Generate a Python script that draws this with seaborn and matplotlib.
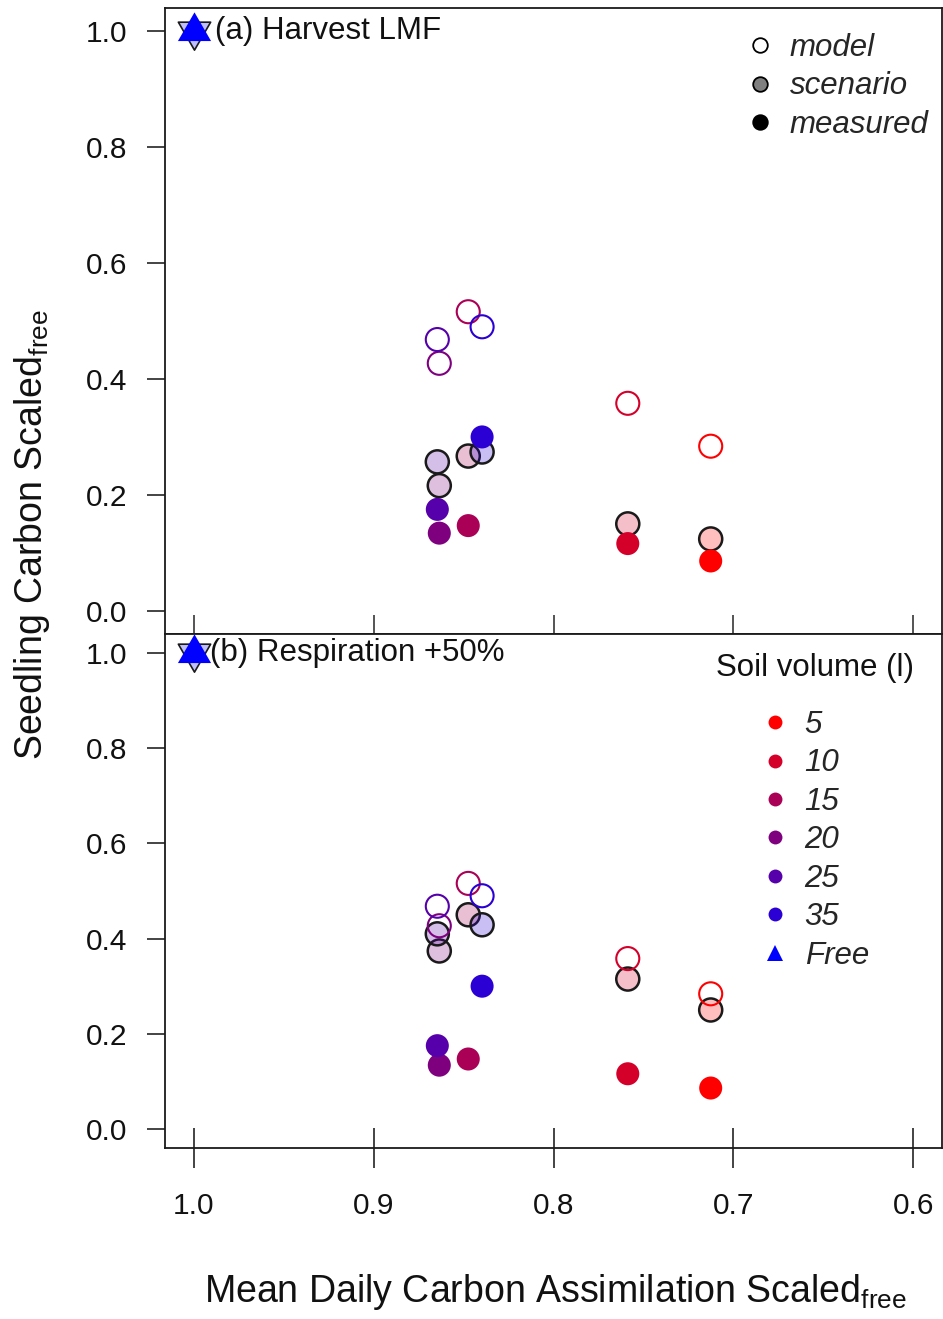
import matplotlib
matplotlib.use("Agg")
import matplotlib.pyplot as plt
import numpy as np
from matplotlib.colors import to_rgba
from matplotlib.lines import Line2D
from matplotlib.markers import MarkerStyle
from matplotlib.path import Path
from matplotlib.ticker import FormatStrFormatter
import pandas as pd
import seaborn as sns

# ---- data -------------------------------------------------------------
volumes = ["5", "10", "15", "20", "25", "35"]
assimilation = [0.7126, 0.7587, 0.8474, 0.8635, 0.8646, 0.8397]
model = [0.284, 0.358, 0.516, 0.427, 0.468, 0.490]
scenario_lmf = [0.124, 0.150, 0.267, 0.216, 0.257, 0.274]
scenario_resp = [0.250, 0.315, 0.450, 0.374, 0.410, 0.429]
measured = [0.086, 0.116, 0.147, 0.134, 0.175, 0.300]
free_assim = [1.0]
free_carbon = [1.0]

volume_colors = ["#FF0000", "#D4002A", "#AA0055", "#7F007F", "#5500AA", "#2A00D4"]
free_color = "#0000FF"
panel_titles = ["(a) Harvest LMF", "(b) Respiration +50%"]
type_labels = ["model", "scenario", "measured"]
x_ticks = [1.0, 0.9, 0.8, 0.7, 0.6]
y_ticks = [0.0, 0.2, 0.4, 0.6, 0.8, 1.0]

# ---- style ------------------------------------------------------------
sns.set_theme(style="ticks")
plt.rcParams["font.family"] = ["Liberation Sans", "DejaVu Sans"]
plt.rcParams["mathtext.fontset"] = "custom"
plt.rcParams["mathtext.rm"] = "Liberation Sans"
plt.rcParams["mathtext.it"] = "Liberation Sans:italic"
plt.rcParams["mathtext.bf"] = "Liberation Sans:bold"

W, H = 943, 1319
fig = plt.figure(figsize=(W / 100, H / 100), dpi=100)
ax_a = fig.add_axes([165 / W, 1 - 634 / H, 777 / W, 626 / H])
ax_b = fig.add_axes([165 / W, 1 - 1148 / H, 777 / W, 514 / H], sharex=ax_a)

TICK_FS = 21.5
TEXT_FS = 22.5
LABEL_FS = 27
EDGE = "#1a1a1a"
S = 275

palette = dict(zip(volumes, volume_colors))
palette_light = {v: to_rgba(c, 0.25) for v, c in palette.items()}

# equilateral triangles centred on their centroid
h = np.sqrt(3) / 2
TRI_UP = MarkerStyle(Path([(0, 1), (-h, -0.5), (h, -0.5), (0, 1)], closed=True))
TRI_DOWN = MarkerStyle(Path([(0, -1), (-h, 0.5), (h, 0.5), (0, -1)], closed=True))


def draw_panel(ax, scenario, title, title_dx):
    df = pd.DataFrame({"volume": volumes, "assim": assimilation,
                       "model": model, "scenario": scenario,
                       "measured": measured})
    free = pd.DataFrame({"assim": free_assim, "carbon": free_carbon})

    # scenario: translucent fill, dark outline
    sns.scatterplot(data=df, x="assim", y="scenario", hue="volume",
                    palette=palette_light, s=S, edgecolor=EDGE,
                    linewidth=1.8, legend=False, ax=ax, zorder=3)
    sc = ax.collections[-1]
    sc.set_facecolors([palette_light[v] for v in volumes])
    sc.set_edgecolors(EDGE)

    # model: open rings in the volume colour
    sns.scatterplot(data=df, x="assim", y="model", hue="volume",
                    palette=palette, s=S, linewidth=1.5, legend=False,
                    ax=ax, zorder=4)
    rings = ax.collections[-1]
    rings.set_edgecolors([palette[v] for v in volumes])
    rings.set_facecolors("none")

    # measured: solid dots
    sns.scatterplot(data=df, x="assim", y="measured", hue="volume",
                    palette=palette, s=S, linewidth=0, legend=False,
                    ax=ax, zorder=5)

    # free-growing reference seedlings
    sns.scatterplot(data=free, x="assim", y="carbon", marker=TRI_DOWN, s=720,
                    color=free_color, linewidth=1.2, legend=False,
                    ax=ax, zorder=6, clip_on=False)
    tri = ax.collections[-1]
    tri.set_facecolors(to_rgba(free_color, 0.25))
    tri.set_edgecolors(EDGE)
    sns.scatterplot(data=free, x="assim", y="carbon", marker=TRI_UP, s=760,
                    color=free_color, linewidth=0, legend=False,
                    ax=ax, zorder=7, clip_on=False)

    ax.annotate(title, xy=(free_assim[0], free_carbon[0]),
                xytext=(title_dx, 0), textcoords="offset points",
                ha="left", va="center", fontsize=TEXT_FS, color="#111111")

    ax.set_xlim(1.016, 0.584)
    ax.set_ylim(-0.04, 1.04)
    ax.set_xticks(x_ticks)
    ax.set_yticks(y_ticks)
    ax.xaxis.set_major_formatter(FormatStrFormatter("%.1f"))
    ax.yaxis.set_major_formatter(FormatStrFormatter("%.1f"))
    ax.tick_params(axis="y", direction="out", length=13, width=1.1,
                   pad=14, labelsize=TICK_FS, colors="#111111")
    ax.set_xlabel("")
    ax.set_ylabel("")
    ax.grid(False)
    for sp in ax.spines.values():
        sp.set_visible(True)
        sp.set_linewidth(1.3)
        sp.set_color(EDGE)


draw_panel(ax_a, scenario_lmf, panel_titles[0], 15)
draw_panel(ax_b, scenario_resp, panel_titles[1], 12)

ax_a.tick_params(axis="x", direction="in", length=14, width=1.1,
                 labelbottom=False)
ax_b.tick_params(axis="x", direction="inout", length=29, width=1.1,
                 pad=17, labelsize=TICK_FS, colors="#111111")

# ---- legends ----------------------------------------------------------
type_handles = [
    Line2D([], [], ls="none", marker="o", ms=10.5, mfc="none", mec="black", mew=1.3),
    Line2D([], [], ls="none", marker="o", ms=10.5, mfc="#808080", mec="black", mew=1.3),
    Line2D([], [], ls="none", marker="o", ms=10.5, mfc="black", mec="black", mew=1.3),
]
ax_a.legend(type_handles, type_labels, loc="upper left",
            bbox_to_anchor=(744 / W, 1 - 33 / H), bbox_transform=fig.transFigure,
            frameon=False, borderpad=0, borderaxespad=0, handlelength=1.0,
            handletextpad=0.46, labelspacing=0.27,
            prop={"size": TEXT_FS, "style": "italic"})

vol_handles = [Line2D([], [], ls="none", marker="o", ms=10, mfc=c, mec=c, mew=0)
               for c in volume_colors]
vol_handles.append(Line2D([], [], ls="none", marker="^", ms=11,
                          mfc=free_color, mec=free_color, mew=0))
ax_b.legend(vol_handles, volumes + ["Free"], loc="upper left",
            bbox_to_anchor=(759 / W, 1 - 710 / H), bbox_transform=fig.transFigure,
            frameon=False, borderpad=0, borderaxespad=0, handlelength=1.0,
            handletextpad=0.46, labelspacing=0.27,
            prop={"size": TEXT_FS, "style": "italic"})
fig.text(815 / W, 1 - 668 / H, "Soil volume (l)", ha="center", va="center",
         fontsize=TEXT_FS, color="#111111")

# ---- axis titles ------------------------------------------------------
fig.text(32 / W, 1 - 535 / H, r"Seedling Carbon Scaled$_{\mathrm{free}}$",
         rotation=90, ha="center", va="center", fontsize=LABEL_FS, color="#111111")
fig.text(555 / W, 1 - 1292 / H,
         r"Mean Daily Carbon Assimilation Scaled$_{\mathrm{free}}$",
         ha="center", va="center", fontsize=LABEL_FS, color="#111111")

fig.savefig("out.png", dpi=100, facecolor="white")
